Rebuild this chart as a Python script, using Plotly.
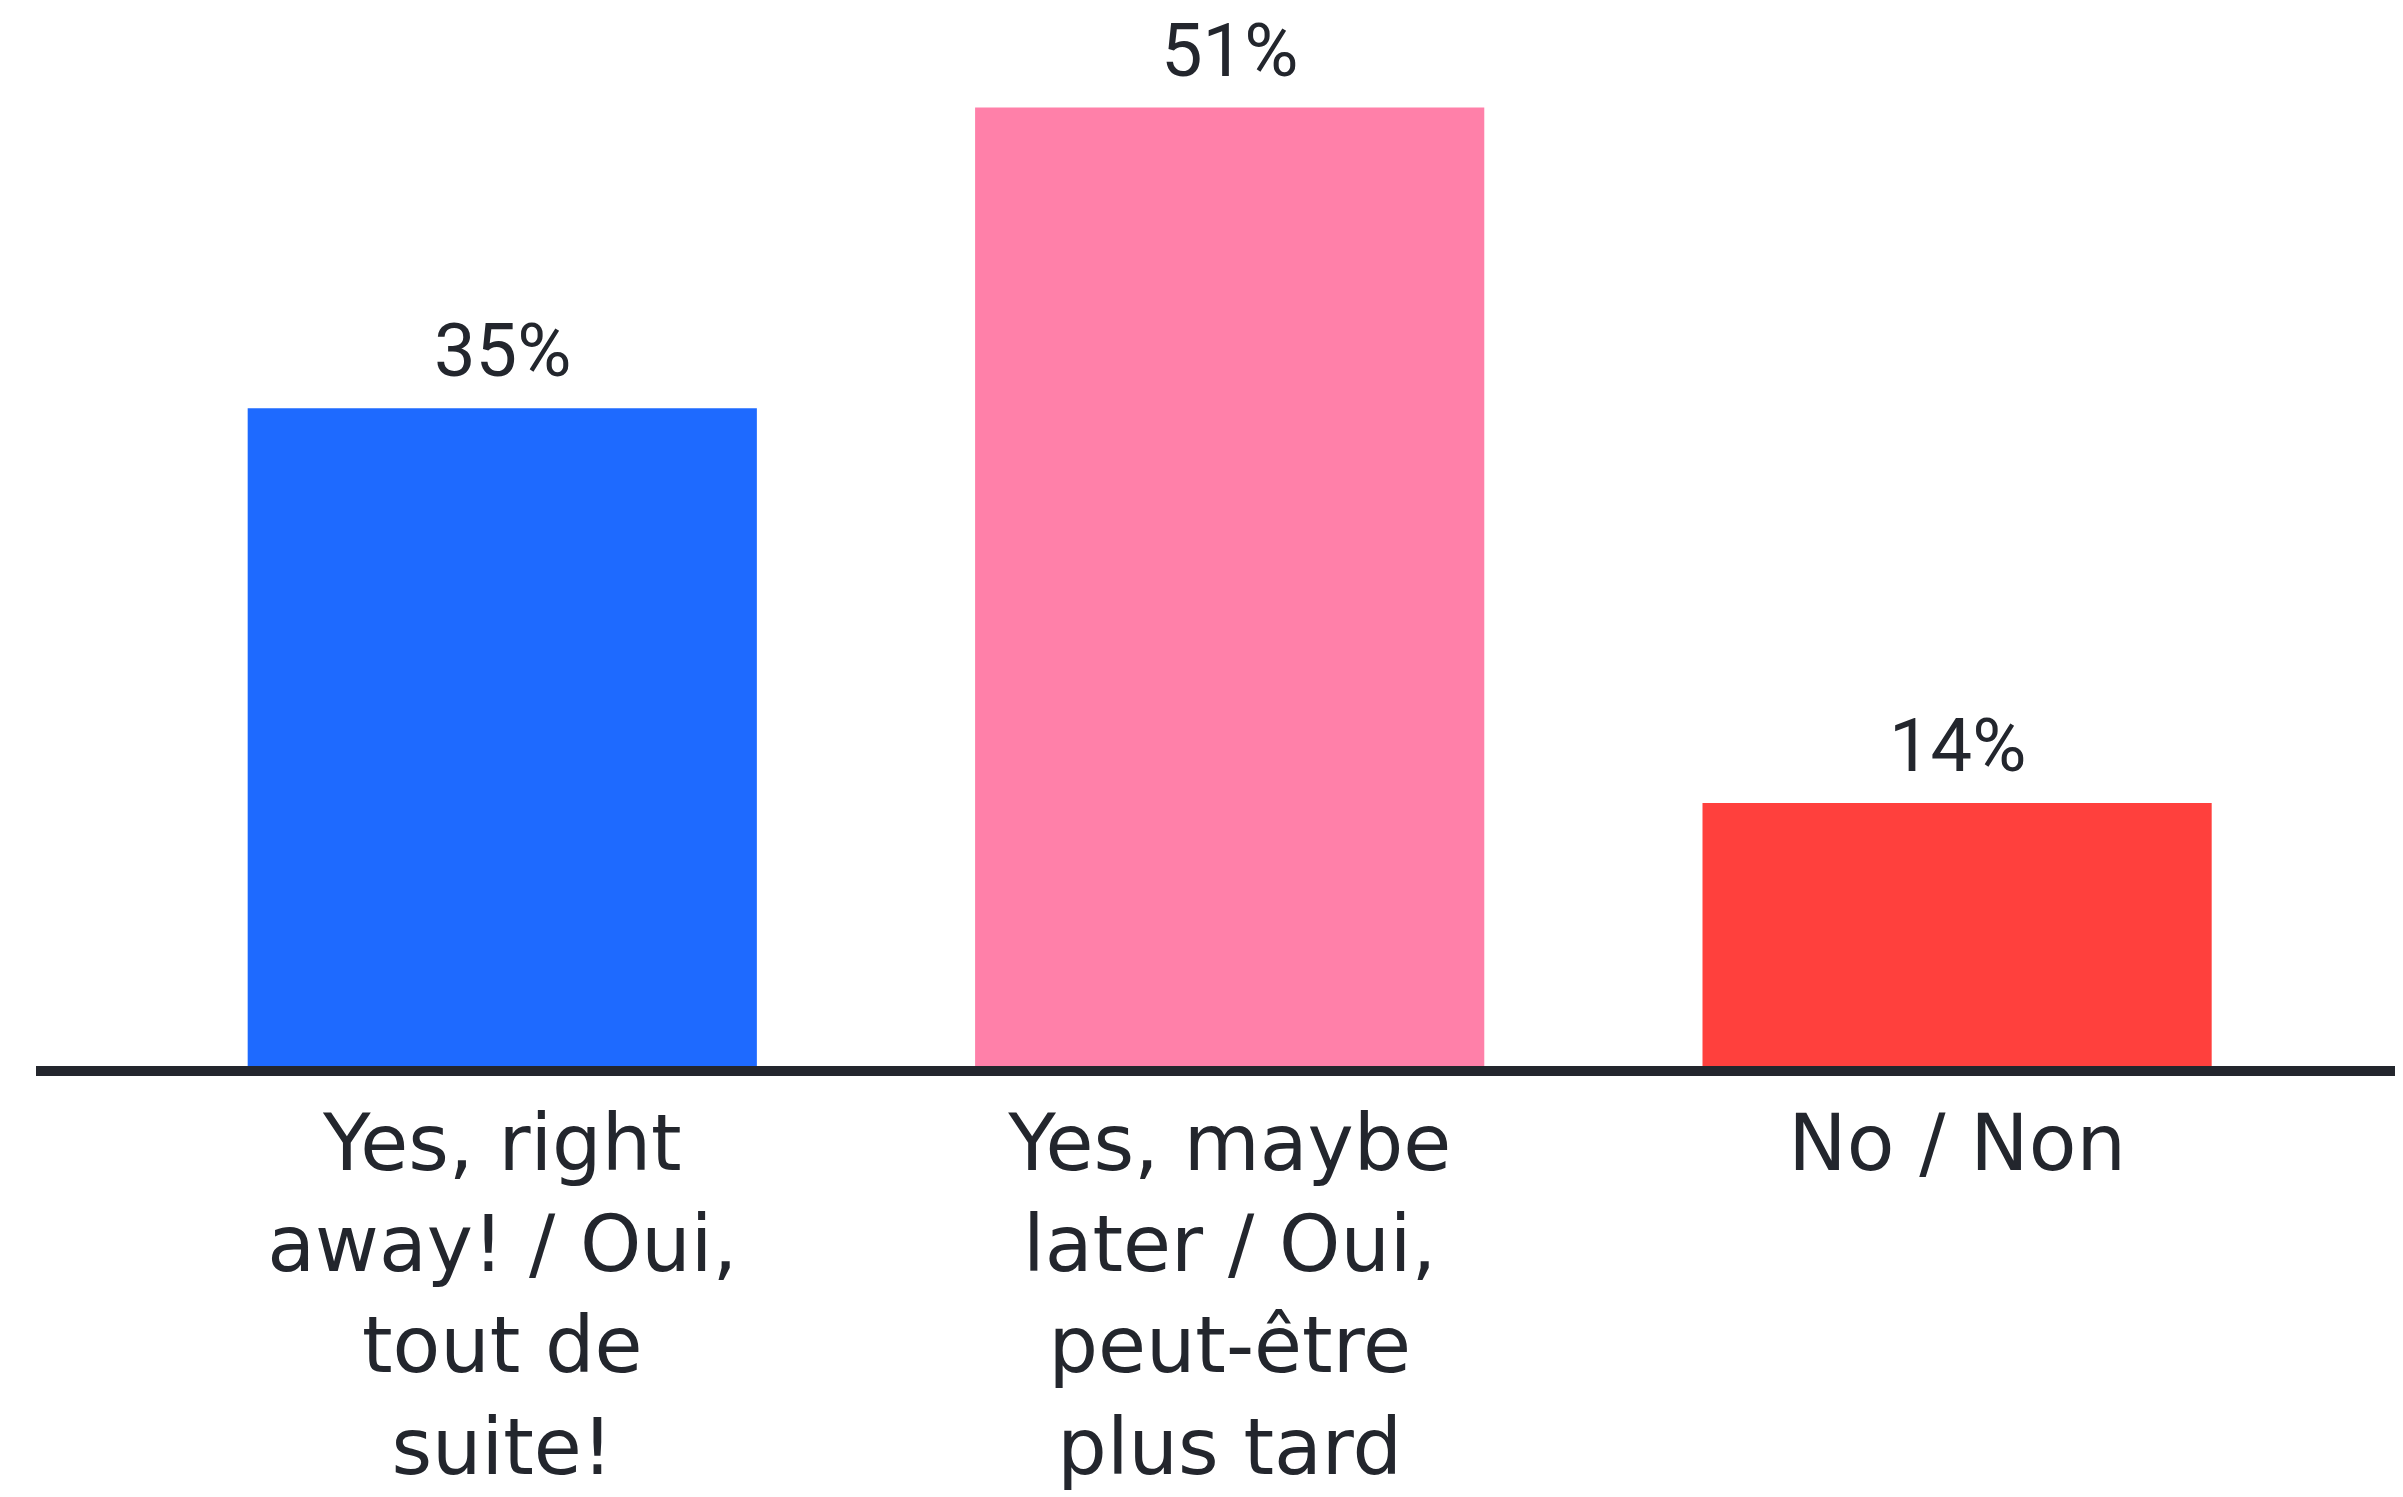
import plotly.graph_objects as go

CATEGORIES = [
    "Yes, right<br>away! / Oui,<br>tout de<br>suite!",
    "Yes, maybe<br>later / Oui,<br>peut-être<br>plus tard",
    "No / Non",
]
VALUES = [35, 51, 14]
LABELS = ["35%", "51%", "14%"]
COLORS = ["#1e6aff", "#ff80a9", "#ff403d"]

INK = "#23262d"
LABEL_FONT = "DejaVu Sans, Open Sans, sans-serif"

fig = go.Figure()
fig.add_trace(
    go.Bar(
        x=CATEGORIES,
        y=VALUES,
        marker=dict(color=COLORS, line=dict(width=0)),
        cliponaxis=False,
        width=0.7,
        hoverinfo="skip",
    )
)

for cat, val, lab in zip(CATEGORIES, VALUES, LABELS):
    fig.add_annotation(
        x=cat,
        y=val,
        text=lab,
        showarrow=False,
        yanchor="bottom",
        yshift=12,
        font=dict(family="Roboto, Liberation Sans, sans-serif", size=74, color=INK),
    )

fig.update_layout(
    width=2403,
    height=1497,
    template="none",
    paper_bgcolor="white",
    plot_bgcolor="white",
    margin=dict(l=28, r=0, t=0, b=439),
    showlegend=False,
    font=dict(family=LABEL_FONT, color=INK),
)
fig.update_xaxes(
    range=[-0.641, 2.624],
    showgrid=False,
    zeroline=False,
    showline=True,
    linecolor=INK,
    linewidth=10,
    ticks="",
    tickfont=dict(size=78, color=INK, family=LABEL_FONT),
)
fig.update_yaxes(
    range=[0, 56.3],
    visible=False,
    showgrid=False,
    zeroline=False,
)

fig.write_html("out.html")
